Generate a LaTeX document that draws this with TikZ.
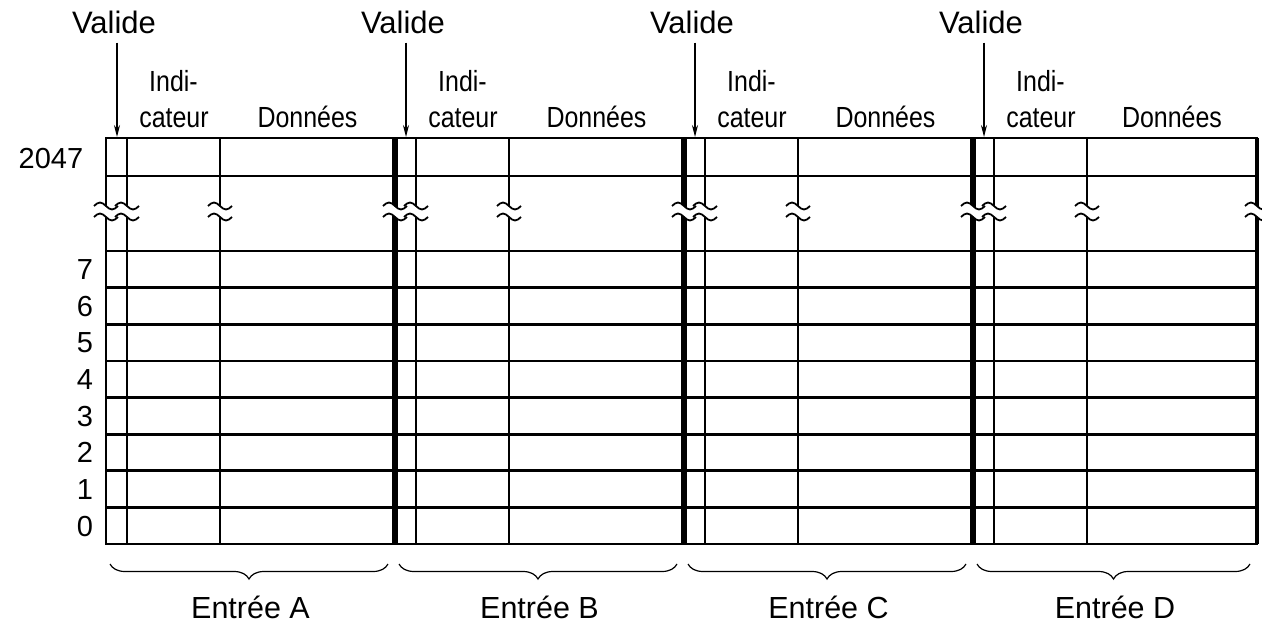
\documentclass[tikz,border=0pt]{standalone}
\usepackage{fontspec}
\usepackage{graphicx}
\setmainfont{Liberation Sans}
\usetikzlibrary{arrows.meta,decorations.pathreplacing}
\newcommand\tallt[1]{\scalebox{0.96}[1.12]{#1}}
\begin{document}
\begin{tikzpicture}[x=1pt,y=-1pt,
  grid/.style={line width=2.8pt},
  sepline/.style={line width=5.5pt},
  wave/.style={line width=1.8pt},
  lbl/.style={font=\fontsize{26}{28}\selectfont, anchor=base, inner sep=0pt},
  big/.style={font=\fontsize{31}{33}\selectfont, anchor=base, inner sep=0pt},
  ent/.style={font=\fontsize{30.5}{33}\selectfont, anchor=base, inner sep=0pt},
  num/.style={font=\fontsize{29}{31}\selectfont, anchor=base, inner sep=0pt},
  ptr/.style={line width=1.3pt, -{Stealth[length=12pt,width=6pt]}},
  brc/.style={decorate, decoration={brace, amplitude=15pt, mirror}, line width=1.2pt},
]
\useasboundingbox (0,0) rectangle (1262,623);
% horizontal lines
\foreach \yy in {176,251,287.6,324.3,360.9,397.5,434.1,470.8,507.4}
  \draw[grid] (106,\yy) -- (1257,\yy);
% outer frame
\draw[grid] (106,138) rectangle (1257,544);
\draw[line width=4.5pt] (1257,138) -- (1257,544);
% entries
\foreach \e/\r/\L in {106/395/A,395/684/B,684/973/C,973/1257/D}{
  \draw[grid] (\e+21,138) -- (\e+21,544);
  \draw[grid] (\e+114,138) -- (\e+114,544);
  \node[big] (v\L) at (\e+8,34) {Valide};
  \coordinate (t\L) at (\e+11,137);
  \draw[ptr, shorten <=8pt] (v\L.south -| t\L) -- (t\L);
  \node[lbl] (i\L) at (\e+67.5,92) {\tallt{Indi-}};
  \node[lbl] (c\L) at (\e+68,128) {\tallt{cateur}};
  \node[lbl] (d\L) at ({(\e+114+\r)/2},128) {\tallt{Données}};
  \draw[brc] (\e+4,564) -- (\r-7,564);
  \node[ent] (E\L) at ({(\e+\r)/2},618) {Entrée \L};
}
\foreach \e in {395,684,973}
  \draw[sepline] (\e,138) -- (\e,544);
% row numbers
\node[num] (n2047) at (51,169) {2047};
\foreach \k [count=\i] in {7,6,5,4,3,2,1,0}
  \node[num] (n\k) at (85,{251+36.625*\i-8}) {\k};
% break marks
\foreach \bx in {106,127,220,395,416,509,684,705,798,973,994,1087,1257}
  \fill[white] (\bx-12,206) sin (\bx-6,202.5) cos (\bx,206) sin (\bx+6,209.5) cos (\bx+12,206)
     -- (\bx+12,217) sin (\bx+6,220.5) cos (\bx,217) sin (\bx-6,213.5) cos (\bx-12,217) -- cycle;
\foreach \bx in {106,127,220,395,416,509,684,705,798,973,994,1087,1257}{
  \draw[wave] (\bx-12,206) sin (\bx-6,202.5) cos (\bx,206) sin (\bx+6,209.5) cos (\bx+12,206);
  \draw[wave] (\bx-12,217) sin (\bx-6,213.5) cos (\bx,217) sin (\bx+6,220.5) cos (\bx+12,217);
}
\end{tikzpicture}
\end{document}
